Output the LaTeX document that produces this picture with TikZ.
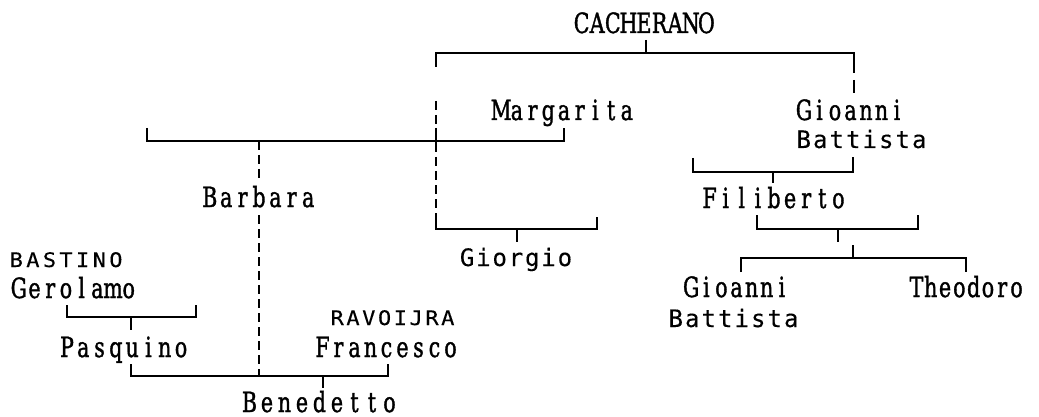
\documentclass[tikz,border=0pt]{standalone}
\usepackage{fontspec}
\usepackage{graphicx}
\setmainfont{DejaVu Serif}
\newfontfamily\serifm{DejaVu Serif}[FakeBold=1.6]
\newfontfamily\sansm{DejaVu Sans Mono}[FakeBold=0.25]
\def\mcell{16pt}
\def\mxs{1}
\def\monoloop#1{\ifx#1\relax\else\makebox[\mcell][c]{\scalebox{\mxs}[1]{#1}}\expandafter\monoloop\fi}
\newcommand\serifmono[2]{\def\mcell{#1}\def\mxs{0.74}\serifm\fontsize{27.8}{27.8}\selectfont\monoloop#2\relax}
\newcommand\sansbig[2]{\def\mcell{#1}\def\mxs{1}\sansm\fontsize{24}{24}\selectfont\monoloop#2\relax}
\newcommand\sanssmall[2]{\def\mcell{#1}\def\mxs{1.1}\sansm\fontsize{20}{20}\selectfont\monoloop#2\relax}
\begin{document}
\begin{tikzpicture}[x=1pt,y=-1pt,
  lbl/.style={inner sep=0pt,outer sep=0pt,anchor=base},
  link/.style={line width=1.7pt,line cap=butt,line join=miter},
  dlink/.style={line width=1.7pt,dash pattern=on 9pt off 5pt}]
\useasboundingbox (0,0) rectangle (1039,417);
% names
\node[lbl] (cach) at (644,33) {\serifmono{15.6pt}{CACHERANO}};
\node[lbl] (marg) at (564,120) {\serifmono{15.7pt}{Margarita}};
\node[lbl] (gio1) at (850.5,120) {\serifmono{15.5pt}{Gioanni}};
\node[lbl] (bat1) at (861.5,148) {\sansbig{16.5pt}{Battista}};
\node[lbl] (barb) at (259,207) {\serifmono{16.4pt}{Barbara}};
\node[lbl] (fili) at (774,208) {\serifmono{16.1pt}{Filiberto}};
\node[lbl] (gior) at (516,266) {\sansbig{16.3pt}{Giorgio}};
\node[lbl,anchor=base west] (bast) at (8,267) {\sanssmall{16.6pt}{BASTINO}};
\node[lbl,anchor=base west] (gero) at (11,298) {\serifmono{15.7pt}{Gerolamo}};
\node[lbl] (ravo) at (392.5,325) {\sanssmall{15.8pt}{RAVOIJRA}};
\node[lbl] (pasq) at (124,357) {\serifmono{16.3pt}{Pasquino}};
\node[lbl] (fran) at (386.5,357) {\serifmono{16pt}{Francesco}};
\node[lbl] (bene) at (319.5,412) {\serifmono{17.5pt}{Benedetto}};
\node[lbl] (gio2) at (736.5,297) {\serifmono{15.1pt}{Gioanni}};
\node[lbl] (bat2) at (733.5,327) {\sansbig{16.5pt}{Battista}};
\node[lbl] (theo) at (966.5,297) {\serifmono{14.3pt}{Theodoro}};
% top bracket
\coordinate (cT) at (646,40);
\coordinate (cB) at (646,53);
\draw[link] (cT) -- (cB);
\draw[link] (436,67) -- (436,53) -- (854,53) -- (854,73);
\draw[link] (854,80) -- (854,93);
% dashed line from left of top bracket to Giorgio
\draw[dlink] (436,101) -- (436,217);
\draw[link] (436,128) -- (436,151);
% Margarita bracket
\draw[link] (147,128) -- (147,141) -- (564,141) -- (564,128);
% Barbara dashed
\draw[dlink] (259,141) -- (259,182);
\draw[dlink] (259,215) -- (259,376);
% Giorgio bracket
\draw[link] (436,217) -- (436,229) -- (597,229) -- (597,217);
\draw[link] (517,229) -- (517,242);
% Gioanni Battista bracket
\draw[link] (693,158) -- (693,172) -- (853,172) -- (853,157);
\draw[link] (773,172) -- (773,183);
% Filiberto bracket
\draw[link] (757,215) -- (757,229) -- (918,229) -- (918,215);
\draw[link] (838,229) -- (838,242);
% children of Filiberto
\draw[link] (853,245) -- (853,258);
\draw[link] (741,272) -- (741,258) -- (966,258) -- (966,272);
% Gerolamo bracket
\draw[link] (67,305) -- (67,317) -- (196,317) -- (196,305);
\draw[link] (131,317) -- (131,330);
% bottom bracket
\draw[link] (131,364) -- (131,376) -- (388,376) -- (388,364);
\draw[link] (323,376) -- (323,388);
\end{tikzpicture}
\end{document}
